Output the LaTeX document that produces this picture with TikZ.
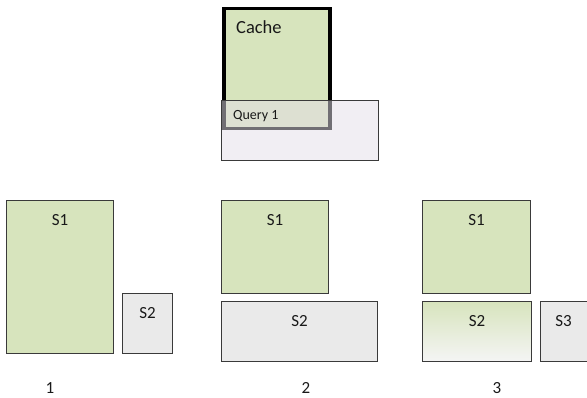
\documentclass[tikz,border=0pt]{standalone}
\usepackage{fontspec}
\setmainfont{Carlito}
\usetikzlibrary{positioning}
\definecolor{olivefill}{HTML}{D7E4BD}
\definecolor{greyfill}{HTML}{EAEAEA}
\definecolor{queryfill}{HTML}{E3DEE8}
\definecolor{boxline}{HTML}{3A3A3A}
\newcommand{\segfont}{\fontsize{17}{20}\selectfont}
\tikzset{
  store/.style={draw=boxline, line width=1.3pt, anchor=north west, inner sep=0pt},
  greenstore/.style={store, fill=olivefill},
  greystore/.style={store, fill=greyfill},
  fadestore/.style={store, top color=olivefill, bottom color=white!96!black},
  cachebox/.style={draw=black, line width=3.5pt, fill=olivefill, anchor=north west, inner sep=0pt},
  querybox/.style={draw=boxline, line width=1pt, fill=queryfill, fill opacity=0.5, anchor=north west, inner sep=0pt},
  tag/.style={inner sep=0pt, text=black!90, font=\segfont},
  steplabel/.style={inner sep=0pt, text=black!90, font=\segfont}
}

\begin{document}
\begin{tikzpicture}[x=1pt,y=-1pt]
  \useasboundingbox (0,0) rectangle (587,398);

  \node[cachebox, minimum width=106, minimum height=120] (cache) at (222,7) {};
  \node[tag, anchor=north west, font=\fontsize{18.5}{21}\selectfont] (cachetxt) at (236,20) {Cache};
  \node[querybox, minimum width=157, minimum height=60] (query) at (221,100) {};
  \node[tag, anchor=north west, font=\fontsize{14}{16}\selectfont] (querytxt) at (233,110) {Query 1};

  \node[greenstore, minimum width=107, minimum height=153] (sa1) at (6,200) {};
  \node[greystore, minimum width=50, minimum height=60] (sa2) at (122,293) {};
  \node[tag, below=14pt of sa1.north] (sa1txt) {S1};
  \node[tag, below=14pt of sa2.north] (sa2txt) {S2};
  \node[steplabel] (step1) at (50,388) {1};

  \node[greenstore, minimum width=107, minimum height=93] (sb1) at (221,200) {};
  \node[greystore, minimum width=156, minimum height=60] (sb2) at (221,301) {};
  \node[tag, below=14pt of sb1.north] (sb1txt) {S1};
  \node[tag, below=14pt of sb2.north] (sb2txt) {S2};
  \node[steplabel] (step2) at (306,388) {2};

  \node[greenstore, minimum width=108, minimum height=93] (sc1) at (422,200) {};
  \node[fadestore, minimum width=109, minimum height=60] (sc2) at (422,301) {};
  \node[greystore, minimum width=52, minimum height=60] (sc3) at (540,301) {};
  \node[tag, below=14pt of sc1.north] (sc1txt) {S1};
  \node[tag, below=14pt of sc2.north] (sc2txt) {S2};
  \node[tag, below=14pt of sc3.north, xshift=-3pt] (sc3txt) {S3};
  \node[steplabel] (step3) at (497,388) {3};
\end{tikzpicture}
\end{document}
